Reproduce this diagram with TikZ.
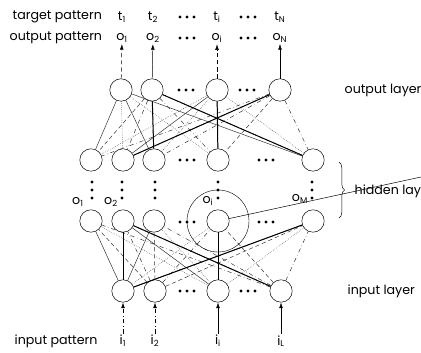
\documentclass[tikz,border=0pt]{standalone}
\usepackage{fontspec}
\setmainfont{Poppins}
\usetikzlibrary{arrows.meta,decorations.pathreplacing}

\tikzset{
	neuron/.style={circle, draw, minimum size=0.56cm, inner sep=0pt},
	lbl/.style={inner sep=1pt, font=\fontsize{9}{10}\selectfont},
	w0/.style={densely dashed, black!80},
	w1/.style={black!80},
	w2/.style={dash dot, black!80},
	w3/.style={densely dotted, black!80},
	feed/.style={-{Latex[length=4pt,width=2.6pt]}},
}

\begin{document}
\begin{tikzpicture}[x=0.025cm, y=-0.025cm, line width=0.35pt]
	\useasboundingbox (0,0) rectangle (421,353);

	% layers of neurons
	\foreach \x / \n in {121/1,152/2,217/3,280/4}{
	\node[neuron] (out\n) at (\x,90) {};}
	\foreach \x / \n in {91/1,123/2,154/3,218/4,313/5}{
	\node[neuron] (hu\n) at (\x,160) {};
	\node[neuron] (hl\n) at (\x,221) {};}
	\foreach \x / \n in {123/1,155/2,218/3,281/4}{
	\node[neuron] (in\n) at (\x,291) {};}

	% patterns
	\node[lbl, anchor=west] (tglab) at (11,17) {target pattern};
	\node[lbl, anchor=west] (oplab) at (8,38) {output pattern};
	\node[lbl, anchor=west] (iplab) at (13,341) {input pattern};
	\foreach \x / \n / \s in {122/1/1,153/2/2,217/3/i,280/4/N}{
	\node[lbl] (tg\n) at (\x,17) {t\textsubscript{\s}};
	\node[lbl] (op\n) at (\x,38) {o\textsubscript{\s}};}
	\foreach \x / \n / \s in {123/1/1,155/2/2,218/3/i,281/4/L}{
	\node[lbl] (ip\n) at (\x,341) {i\textsubscript{\s}};}

	% layer names
	\node[lbl, anchor=west] (outname) at (343,90) {output layer};
	\node[lbl, anchor=west] (hidname) at (353,191) {hidden layer};
	\node[lbl, anchor=west] (inname) at (346,291) {input layer};

	% arrows in and out
	\draw[feed, densely dashed] (out1) -- (op1);
	\draw[feed] (out2) -- (op2);
	\draw[feed, densely dashed] (out3) -- (op3);
	\draw[feed] (out4) -- (op4);
	\draw[feed, dash dot] (ip1) -- (in1);
	\draw[feed, dash dot] (ip2) -- (in2);
	\draw[feed] (ip3) -- (in3);
	\draw[feed] (ip4) -- (in4);

	% weights
	\foreach \a in {1,...,4}{
	\foreach \b in {1,...,5}{
	\pgfmathtruncatemacro{\k}{mod(\a*3+\b*2,4)}
	\draw[w\k] (out\a) -- (hu\b);
	\draw[w\k] (in\a) -- (hl\b);}}
	\foreach \a / \b in {2/3,3/4,4/2,2/5}{
	\draw[line width=0.7pt] (out\a) -- (hu\b);}
	\foreach \a / \b in {3/4,1/2,4/2,1/5}{
	\draw[line width=0.7pt] (in\a) -- (hl\b);}

	% dots
	\foreach \x / \y in {187/17,248/17,187/38,248/38,186/90,247/90,187/160,266/160,187/222,266/222,187/291,248/291}{
	\foreach \d in {-7,0,7}{
	\fill (\x+\d,\y) circle (1.1pt);}}
	\foreach \x in {92,122,155,218,312}{
	\foreach \y in {182,190,198}{
	\fill (\x,\y) circle (1.1pt);}}

	% hidden outputs
	\node[lbl] (h1) at (78,202) {o\textsubscript{1}};
	\node[lbl] (h2) at (111,202) {o\textsubscript{2}};
	\node[lbl] (hi) at (208,201) {o\textsubscript{i}};
	\node[lbl] (hM) at (300,199) {o\textsubscript{M}};

	% close-up of one hidden neuron
	\node[circle, draw, line width=0.3pt, minimum size=1.55cm] (ring) at (hl4) {};
	\coordinate (rim) at (421,177);
	\draw (hl4) -- (rim);
	\draw[decorate, decoration={brace, amplitude=4pt}] (339,162) -- (339,218);

\end{tikzpicture}
\end{document}
